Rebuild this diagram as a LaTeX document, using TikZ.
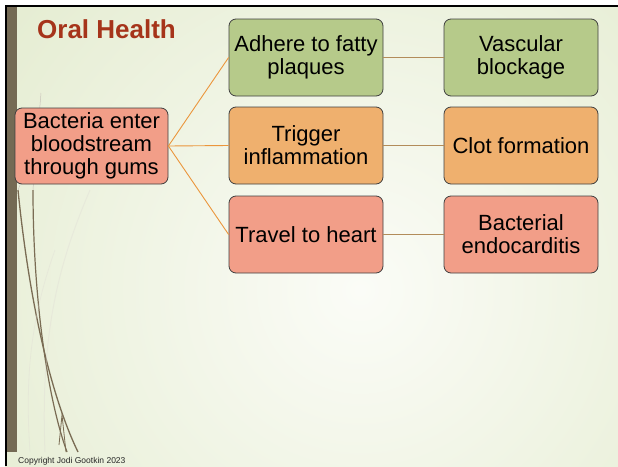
\documentclass[tikz,border=0pt]{standalone}
\usepackage{fontspec}
\setmainfont{Liberation Sans}
\definecolor{bggreen}{RGB}{221,231,196}
\definecolor{bgwhite}{RGB}{251,252,247}
\definecolor{barbrown}{RGB}{116,106,84}
\definecolor{strand}{RGB}{122,108,84}
\definecolor{titlered}{RGB}{166,52,26}
\definecolor{boxgreen}{RGB}{182,202,138}
\definecolor{boxorange}{RGB}{239,176,110}
\definecolor{boxsalmon}{RGB}{242,158,136}
\definecolor{linkorange}{RGB}{235,150,60}
\definecolor{linkbrown}{RGB}{178,140,90}
\begin{document}
\begin{tikzpicture}[x=1pt,y=-1pt,
  box/.style={draw=black!75, line width=0.8pt, rounded corners=7pt,
    minimum width=154pt, minimum height=77pt, inner sep=2pt, align=center,
    font=\fontsize{22}{23}\selectfont, text=black},
  gbox/.style={box, fill=boxgreen},
  obox/.style={box, fill=boxorange},
  sbox/.style={box, fill=boxsalmon},
  link/.style={draw=linkorange, line width=0.9pt},
  link2/.style={draw=linkbrown, line width=0.7pt}]
\useasboundingbox (0,0) rectangle (618,466);
% background
\fill[bggreen] (5,5) rectangle (618,466);
\begin{scope}
  \clip (5,5) rectangle (618,466);
  \shade[inner color=bgwhite, outer color=bggreen] (360,290) circle (620);
\end{scope}
% frame
\fill[black] (5,5) rectangle (618,7);
\fill[black] (5,5) rectangle (7,466);
\fill[barbrown] (7,7) rectangle (17,452);
% decorative strands
\draw[strand!40, line width=0.5pt] (41,93) .. controls (38,130) and (35,160) .. (33,190);
\draw[strand!35, line width=0.5pt] (36,120) .. controls (30,160) and (22,180) .. (18,190);
\draw[strand, line width=1.3pt] (18,190) .. controls (28,290) and (48,390) .. (78,452);
\draw[strand, line width=1.2pt] (33,190) .. controls (33,300) and (48,400) .. (67,452);
\draw[strand, line width=0.8pt] (59,445) -- (62,415) -- (66,452);
\draw[white!75!strand, line width=1pt, opacity=0.35] (90,190) .. controls (60,260) and (40,330) .. (45,452);
\draw[white!75!strand, line width=0.8pt, opacity=0.35] (55,250) .. controls (30,320) and (25,380) .. (30,452);
% title
\node[anchor=base west, inner sep=0pt, text=titlered,
  font=\fontsize{26}{28}\selectfont\bfseries] (title) at (37,38) {Oral Health};
% nodes
\node[sbox, minimum width=153pt, minimum height=76pt] (bac) at (91.5,146) {Bacteria enter\\bloodstream\\through gums};
\node[gbox] (adh) at (306,57.5) {Adhere to fatty\\plaques};
\node[obox] (trig) at (306,145.5) {Trigger\\inflammation};
\node[sbox] (trav) at (306,234.5) {Travel to heart};
\node[gbox] (vasc) at (521,57.5) {Vascular\\blockage};
\node[obox] (clot) at (521,145.5) {Clot formation};
\node[sbox] (endo) at (521,234.5) {Bacterial\\endocarditis};
% connectors
\draw[link] (bac.east) -- (adh.west);
\draw[link] (bac.east) -- (trig.west);
\draw[link] (bac.east) -- (trav.west);
\draw[link2] (adh.east) -- (vasc.west);
\draw[link2] (trig.east) -- (clot.west);
\draw[link2] (trav.east) -- (endo.west);
% copyright
\node[anchor=base west, inner sep=0pt, font=\fontsize{8.5}{10}\selectfont, text=black!85] (copy) at (18,463) {Copyright Jodi Gootkin 2023};
\end{tikzpicture}
\end{document}
